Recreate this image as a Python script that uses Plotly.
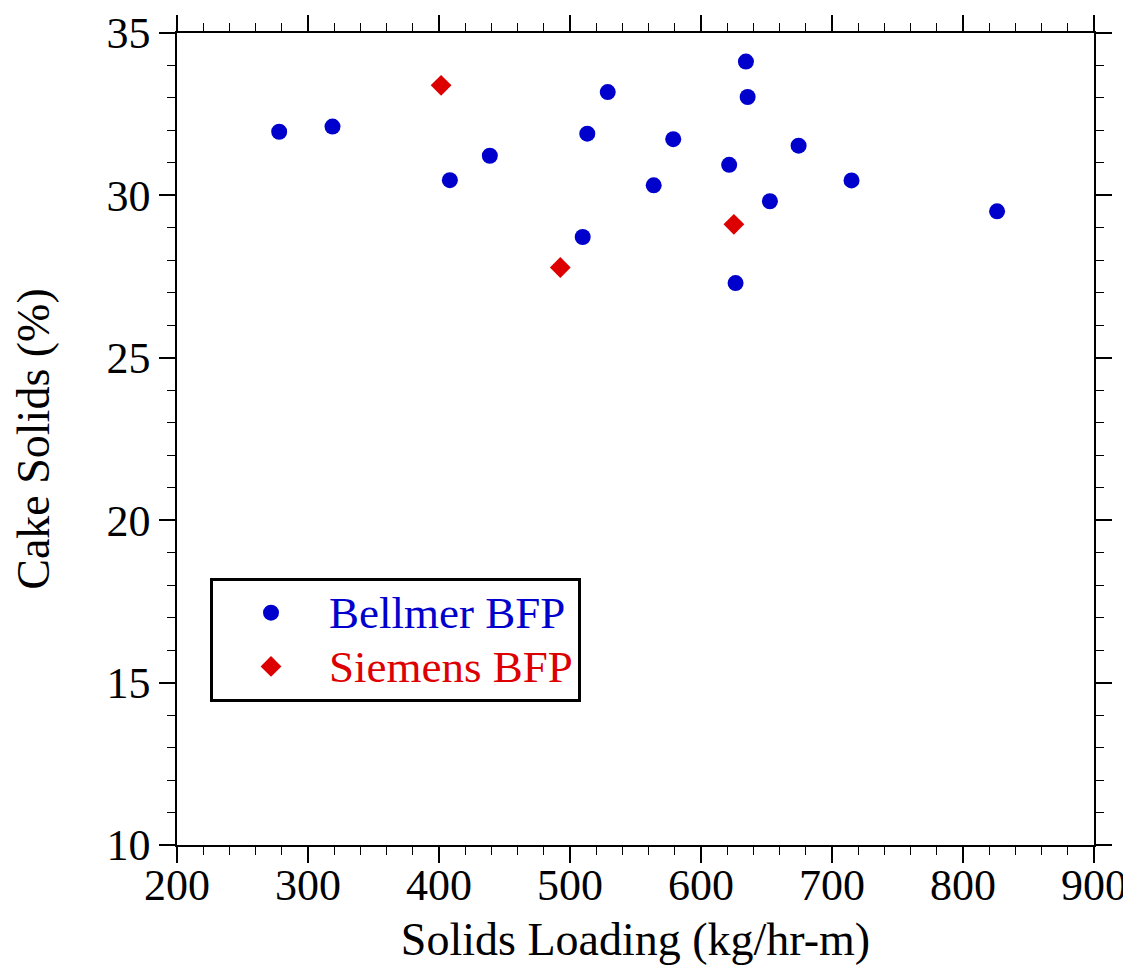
import plotly.graph_objects as go

# Bellmer BFP data
bellmer_x = [278.0, 318.7, 408.3, 438.8, 509.7, 513.2, 528.8, 563.9, 578.8,
             621.5, 626.4, 634.3, 635.6, 652.6, 674.5, 714.9, 826.0]
bellmer_y = [31.96, 32.12, 30.47, 31.22, 28.72, 31.90, 33.18, 30.31, 31.73,
             30.94, 27.30, 34.12, 33.03, 29.82, 31.53, 30.46, 29.51]

# Siemens BFP data
siemens_x = [401.6, 492.6, 625.1]
siemens_y = [33.39, 27.78, 29.11]

x_ticks = [200, 300, 400, 500, 600, 700, 800, 900]
y_ticks = [10, 15, 20, 25, 30, 35]

BLUE = "#0000cc"
RED = "#dd0000"
FONT = "Liberation Serif, Times New Roman, serif"

fig = go.Figure()
fig.add_trace(go.Scatter(
    x=bellmer_x, y=bellmer_y, mode="markers",
    name=f"<span style='color:{BLUE};font-size:45px'>Bellmer BFP</span>",
    marker=dict(symbol="circle", size=16, color=BLUE),
))
fig.add_trace(go.Scatter(
    x=siemens_x, y=siemens_y, mode="markers",
    name=f"<span style='color:{RED};font-size:45px'>Siemens BFP</span>",
    marker=dict(symbol="diamond", size=16, color=RED),
))

axis_common = dict(
    showgrid=False, zeroline=False, showline=True, linecolor="black",
    linewidth=1.5, mirror="ticks", ticks="outside", ticklen=16,
    tickwidth=1.5, tickcolor="black", automargin=False,
    tickfont=dict(family=FONT, size=44, color="black"),
)

fig.update_xaxes(
    range=[200, 900], tickvals=x_ticks, ticklabelstandoff=-16,
    title=dict(text="Solids Loading (kg/hr-m)",
               font=dict(family=FONT, size=46, color="black"), standoff=19),
    minor=dict(dtick=20, ticks="outside", ticklen=8, tickwidth=1.2,
               tickcolor="black", showgrid=False),
    **axis_common,
)
fig.update_yaxes(
    range=[10, 35], tickvals=y_ticks,
    title=dict(text="Cake Solids (%)",
               font=dict(family=FONT, size=46, color="black"), standoff=42),
    minor=dict(dtick=1, ticks="outside", ticklen=8, tickwidth=1.2,
               tickcolor="black", showgrid=False),
    **axis_common,
)

fig.update_layout(
    width=1123, height=957,
    margin=dict(l=169, r=37, t=25, b=120, autoexpand=False),
    paper_bgcolor="white", plot_bgcolor="white",
    font=dict(family=FONT, color="black"),
    legend=dict(
        x=0.036, y=0.329, xanchor="left", yanchor="top",
        bgcolor="white", bordercolor="black", borderwidth=3,
        font=dict(family=FONT, size=39, color="black"),
        itemwidth=106,
    ),
)

fig.write_html("out.html")
